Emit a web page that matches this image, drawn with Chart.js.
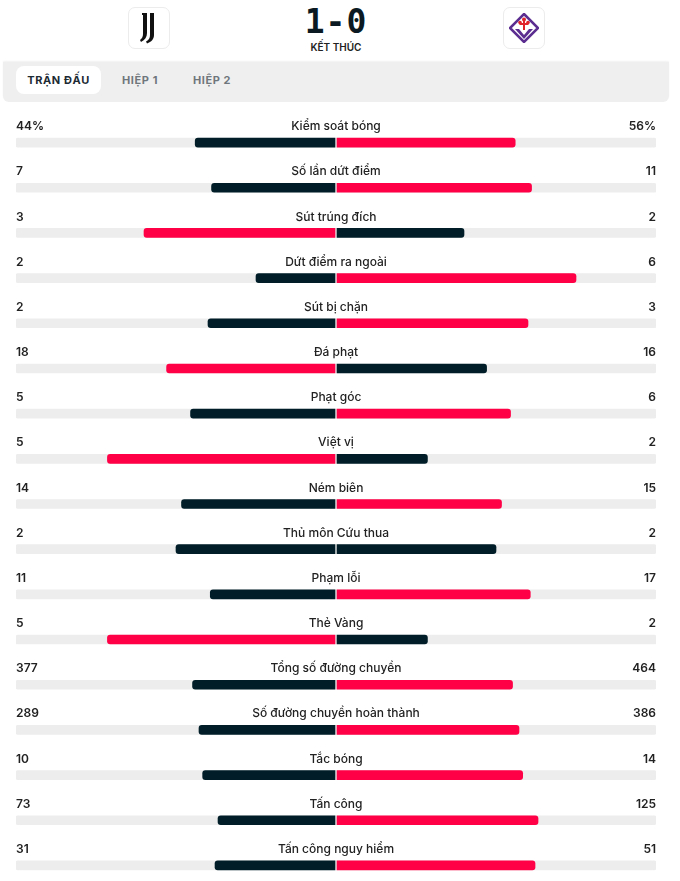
<!DOCTYPE html>
<html>
<head>
<meta charset="utf-8">
<script src="https://cdn.jsdelivr.net/npm/chart.js@4.4.1/dist/chart.umd.min.js"></script>
<style>
  html, body { margin: 0; padding: 0; width: 680px; height: 881px; overflow: hidden; background: #fff; font-family: Inter, Roboto, sans-serif; }
  .logo { position: absolute; top: 7px; width: 40px; height: 40px; border: 1px solid #ececec; border-radius: 7px; background: #fff; display: flex; align-items: center; justify-content: center; }
  #score { position: absolute; left: 236px; width: 200px; top: 2px; text-align: center; font-family: "DejaVu Sans Mono", monospace; font-weight: bold; font-size: 33px; color: #0b1a22; letter-spacing: 1px; }
  #status { position: absolute; left: 236px; width: 200px; top: 41px; text-align: center; font-size: 10px; font-weight: 600; color: #222; }
  #tabs { position: absolute; left: 3px; top: 62px; width: 666px; height: 40px; background: #efefef; border-radius: 0 0 6px 6px; box-shadow: 0 -1px 2px rgba(0,0,0,0.06); }
  .tab { position: absolute; top: 4px; height: 28px; line-height: 28px; font-size: 11px; font-weight: 700; color: #6f767c; letter-spacing: 0.6px; text-align: center; }
  .tab.active { background: #fff; border-radius: 8px; color: #1c2a33; }
  #wrap { position: absolute; left: 0; top: 100px; width: 680px; height: 788px; }
</style>
</head>
<body>
<div class="logo" style="left:128px">
  <svg width="26" height="32" viewBox="0 0 26 32">
    <path d="M7 1h4v20c0 4-2 7-6 9l-1-2c2-1.5 3-3.5 3-6z" fill="#111"/>
    <path d="M14 1h4v22c0 4-2.5 7-7 8.5l-1-2c3-1.5 4-3.5 4-6.5z" fill="#111"/>
    <rect x="6" y="1" width="3" height="2" fill="#111"/>
  </svg>
</div>
<div class="logo" style="left:503px">
  <svg width="30" height="30" viewBox="0 0 30 30">
    <path d="M15 1L29 15L15 29L1 15Z" fill="#fff" stroke="#5b2d91" stroke-width="2.5"/>
    <path d="M6 16h18l-9 10z" fill="#5b2d91"/>
    <path d="M10 16l5 6 5-6z" fill="#fff"/>
    <g fill="#e0242b">
      <rect x="14" y="6" width="2" height="11"/>
      <rect x="10.5" y="10" width="9" height="2"/>
      <circle cx="15" cy="6.5" r="2"/>
      <circle cx="11" cy="9.5" r="1.8"/>
      <circle cx="19" cy="9.5" r="1.8"/>
    </g>
  </svg>
</div>
<div id="score">1-0</div>
<div id="status">KẾT THÚC</div>
<div id="tabs">
  <div class="tab active" style="left:13px;width:85px">TRẬN ĐẤU</div>
  <div class="tab" style="left:109px;width:56px">HIỆP 1</div>
  <div class="tab" style="left:181px;width:56px">HIỆP 2</div>
</div>
<div id="wrap"><canvas id="chart-stats"></canvas></div>
<script>
// Thống kê trận đấu Juventus - Fiorentina
const categories = ['Kiểm soát bóng', 'Số lần dứt điểm', 'Sút trúng đích', 'Dứt điểm ra ngoài', 'Sút bị chặn',
  'Đá phạt', 'Phạt góc', 'Việt vị', 'Ném biên', 'Thủ môn Cứu thua', 'Phạm lỗi', 'Thẻ Vàng',
  'Tổng số đường chuyền', 'Số đường chuyền hoàn thành', 'Tắc bóng', 'Tấn công', 'Tấn công nguy hiểm'];
const homeValues = [44, 7, 3, 2, 2, 18, 5, 5, 14, 2, 11, 5, 377, 289, 10, 73, 31];
const awayValues = [56, 11, 2, 6, 3, 16, 6, 2, 15, 2, 17, 2, 464, 386, 14, 125, 51];
const units = ['%', '', '', '', '', '', '', '', '', '', '', '', '', '', '', '', ''];

const RED = '#ff0046';
const DARK = '#011e28';
const TRACK = '#ededed';
const GAP = 1 / 320;

function share(a, b) { return (a + b) == 0 ? 0 : a / (a + b); }

const leftBars = homeValues.map((v, i) => [-share(v, awayValues[i]), -GAP]);
const rightBars = awayValues.map((v, i) => [GAP, share(v, homeValues[i])]);
const leftColors = homeValues.map((v, i) => v > awayValues[i] ? RED : DARK);
const rightColors = awayValues.map((v, i) => v > homeValues[i] ? RED : DARK);

//Text Block
const textPlugin = {
  id: 'statText',
  afterDatasetsDraw(chart) {
    const ctx = chart.ctx;
    const area = chart.chartArea;
    const mid = (area.left + area.right) / 2;
    ctx.save();
    ctx.textBaseline = 'middle';
    ctx.fillStyle = '#222222';
    categories.forEach((name, i) => {
      const y = chart.scales.y.getPixelForValue(i) - 16;
      ctx.font = '500 12px Inter';
      ctx.textAlign = 'center';
      ctx.fillText(name, mid, y);
      ctx.font = '600 12px Inter';
      ctx.textAlign = 'left';
      ctx.fillText(homeValues[i] + units[i], area.left, y);
      ctx.textAlign = 'right';
      ctx.fillText(awayValues[i] + units[i], area.right, y);
    });
    ctx.restore();
  }
};

const common = { barThickness: 9, grouped: false, borderSkipped: false };

new Chart(document.getElementById('chart-stats'), {
  type: 'bar',
  data: {
    labels: categories,
    datasets: [
      Object.assign({ data: categories.map(() => [-1, 1]), backgroundColor: TRACK, borderRadius: 2, order: 3 }, common),
      Object.assign({ data: leftBars, backgroundColor: leftColors, borderRadius: { topLeft: 3, bottomLeft: 3, topRight: 0, bottomRight: 0 }, order: 1 }, common),
      Object.assign({ data: rightBars, backgroundColor: rightColors, borderRadius: { topLeft: 0, bottomLeft: 0, topRight: 3, bottomRight: 3 }, order: 1 }, common)
    ]
  },
  options: {
    indexAxis: 'y',
    responsive: true,
    maintainAspectRatio: false,
    animation: false,
    layout: { padding: { left: 16, right: 24, top: 20, bottom: 0 } },
    scales: {
      x: { display: false, min: -1, max: 1 },
      y: { display: false }
    },
    plugins: { legend: { display: false }, tooltip: { enabled: false } }
  },
  plugins: [textPlugin]
});
</script>
</body>
</html>
